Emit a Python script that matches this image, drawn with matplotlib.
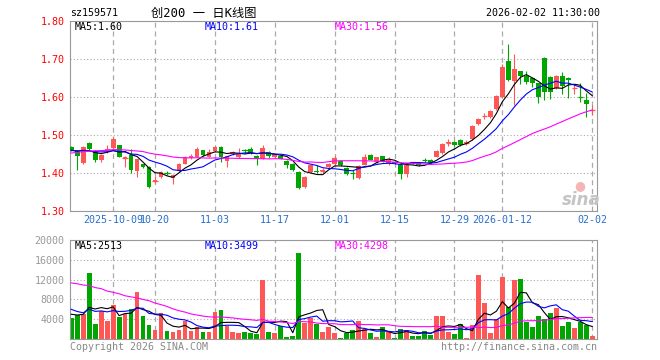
import matplotlib
matplotlib.use('Agg')
import matplotlib.pyplot as plt
import numpy as np
import pandas as pd

plt.rcParams['font.family'] = ['DejaVu Sans Mono', 'Noto Sans CJK SC']

# sessions before the window, only used to warm up the moving averages
pre_closes = [1.395, 1.41, 1.42, 1.405, 1.43, 1.44, 1.435, 1.45, 1.46, 1.455,
              1.47, 1.465, 1.48, 1.47, 1.46, 1.475, 1.485, 1.47, 1.46, 1.45,
              1.45, 1.465, 1.47, 1.455, 1.45, 1.46, 1.455, 1.465, 1.46]
pre_volumes = [9800, 12500, 16800, 15200, 11900, 18600, 14300, 13100, 17500, 12600,
               15800, 13900, 10400, 16200, 14700, 12900, 15600, 13400, 11800, 12800,
               9200, 7600, 6100, 7400, 4700, 5600, 4300, 6200, 4700]

opens = [1.468, 1.458, 1.426, 1.479, 1.459, 1.433, 1.461, 1.465, 1.474, 1.440,
         1.447, 1.404, 1.423, 1.417, 1.380, 1.389, 1.401, 1.388, 1.405, 1.424,
         1.440, 1.443, 1.460, 1.443, 1.457, 1.469, 1.431, 1.449, 1.442, 1.460,
         1.464, 1.446, 1.438, 1.456, 1.442, 1.446, 1.431, 1.424, 1.403, 1.363,
         1.403, 1.406, 1.406, 1.415, 1.424, 1.431, 1.413, 1.401, 1.387, 1.422,
         1.447, 1.429, 1.444, 1.425, 1.429, 1.421, 1.398, 1.428, 1.425, 1.435,
         1.435, 1.443, 1.453, 1.480, 1.482, 1.487, 1.480, 1.489, 1.529, 1.550,
         1.548, 1.568, 1.601, 1.695, 1.643, 1.668, 1.656, 1.651, 1.636, 1.703,
         1.652, 1.623, 1.655, 1.650, 1.623, 1.601, 1.592, 1.566]
highs = [1.470, 1.460, 1.470, 1.481, 1.461, 1.450, 1.475, 1.494, 1.475, 1.444,
         1.462, 1.438, 1.425, 1.418, 1.392, 1.404, 1.405, 1.398, 1.426, 1.444,
         1.450, 1.468, 1.461, 1.462, 1.471, 1.470, 1.446, 1.458, 1.466, 1.462,
         1.468, 1.448, 1.474, 1.458, 1.451, 1.448, 1.433, 1.426, 1.404, 1.391,
         1.423, 1.420, 1.414, 1.426, 1.444, 1.433, 1.415, 1.409, 1.420, 1.450,
         1.449, 1.443, 1.446, 1.441, 1.431, 1.423, 1.422, 1.430, 1.426, 1.440,
         1.437, 1.460, 1.479, 1.489, 1.484, 1.489, 1.487, 1.526, 1.544, 1.558,
         1.565, 1.605, 1.686, 1.739, 1.713, 1.669, 1.668, 1.653, 1.638, 1.705,
         1.654, 1.657, 1.667, 1.652, 1.633, 1.636, 1.610, 1.580]
lows = [1.458, 1.408, 1.424, 1.460, 1.429, 1.428, 1.453, 1.463, 1.441, 1.417,
        1.401, 1.389, 1.413, 1.361, 1.373, 1.387, 1.395, 1.371, 1.403, 1.423,
        1.438, 1.441, 1.445, 1.441, 1.455, 1.428, 1.415, 1.447, 1.440, 1.452,
        1.451, 1.420, 1.436, 1.440, 1.440, 1.436, 1.413, 1.405, 1.357, 1.361,
        1.401, 1.400, 1.401, 1.413, 1.422, 1.418, 1.395, 1.385, 1.385, 1.420,
        1.433, 1.427, 1.429, 1.421, 1.425, 1.384, 1.389, 1.423, 1.419, 1.430,
        1.425, 1.441, 1.451, 1.470, 1.471, 1.472, 1.474, 1.487, 1.526, 1.541,
        1.546, 1.566, 1.598, 1.642, 1.579, 1.633, 1.633, 1.627, 1.583, 1.592,
        1.596, 1.620, 1.607, 1.597, 1.607, 1.588, 1.548, 1.552]
closes = [1.461, 1.444, 1.468, 1.462, 1.433, 1.448, 1.462, 1.489, 1.443, 1.441,
          1.408, 1.436, 1.415, 1.364, 1.381, 1.402, 1.400, 1.396, 1.424, 1.442,
          1.445, 1.462, 1.447, 1.455, 1.469, 1.441, 1.444, 1.456, 1.450, 1.459,
          1.453, 1.437, 1.465, 1.444, 1.449, 1.438, 1.422, 1.409, 1.360, 1.389,
          1.420, 1.402, 1.407, 1.424, 1.440, 1.420, 1.397, 1.400, 1.418, 1.442,
          1.435, 1.441, 1.431, 1.434, 1.427, 1.398, 1.420, 1.427, 1.421, 1.434,
          1.427, 1.458, 1.477, 1.481, 1.473, 1.475, 1.481, 1.524, 1.542, 1.551,
          1.563, 1.603, 1.680, 1.645, 1.674, 1.656, 1.640, 1.636, 1.601, 1.614,
          1.614, 1.655, 1.630, 1.645, 1.624, 1.600, 1.582, 1.567]
volumes = [4200, 4800, 5000, 13270, 3000, 5670, 3670, 6800, 4470, 5130,
           6000, 9470, 4600, 2800, 1870, 5200, 1600, 1470, 1870, 3670,
           1670, 2330, 1470, 1470, 5470, 5870, 2530, 1470, 1200, 1470,
           1200, 1000, 11870, 1470, 1200, 2530, 470, 670, 17470, 3330,
           4330, 3000, 1470, 2470, 1200, 200, 1130, 1870, 3670, 2000,
           1200, 470, 2330, 1330, 200, 2000, 1800, 670, 670, 1600,
           800, 4670, 4670, 1470, 1000, 3000, 200, 2800, 12870, 7200,
           1200, 4000, 12470, 6470, 12000, 12200, 3470, 2470, 4600, 4000,
           5200, 6200, 2670, 3400, 2150, 3450, 2870, 700]

date_pos = [7, 14, 24, 34, 44, 54, 64, 72, 87]
date_labels = ['2025-10-09', '10-20', '11-03', '11-17', '12-01', '12-15',
               '12-29', '2026-01-12', '02-02']
price_ticks = [1.30, 1.40, 1.50, 1.60, 1.70, 1.80]
vol_ticks = [4000, 8000, 12000, 16000, 20000]

UP = '#ff5656'
DOWN = '#00a600'
MA_COLORS = {5: 'black', 10: '#0000ff', 30: '#ff00ff'}

n = len(closes)
x = np.arange(n)
o = np.array(opens)
c = np.array(closes)
colors = np.where(c >= o, UP, DOWN)

k = len(pre_closes)
all_close = pd.Series(pre_closes + closes)
all_vol = pd.Series(pre_volumes + volumes)

W, H = 660, 360
fig = plt.figure(figsize=(6.6, 3.6), dpi=100)
ax = fig.add_axes([70 / W, 1 - 211 / H, 527 / W, 190 / H])
axv = fig.add_axes([70 / W, 1 - 339 / H, 527 / W, 99 / H])

for a in (ax, axv):
    a.set_xlim(-0.2, 87.8)
    for s in a.spines.values():
        s.set_color('#999999')
    a.tick_params(length=0, pad=4, labelsize=7.2)
    for p in date_pos:
        a.axvline(p, color='#aaaaaa', linewidth=0.9, linestyle=(0, (4, 3)), zorder=0)

# candles
ax.vlines(x, lows, highs, colors=colors, linewidth=0.8, zorder=2)
body_lo = np.minimum(o, c)
body_h = np.abs(c - o)
ax.bar(x, body_h, 0.8, bottom=body_lo, color=colors, linewidth=0, zorder=3)
flat = body_h < 0.002
ax.hlines(o[flat], x[flat] - 0.45, x[flat] + 0.45, colors=colors[flat], linewidth=0.9, zorder=3)

for w, col in MA_COLORS.items():
    ma = all_close.rolling(w, min_periods=1).mean().values[k:]
    ax.plot(x, ma, color=col, linewidth=0.8, zorder=4)

ax.set_ylim(1.30, 1.80)
ax.set_yticks(price_ticks, ['%.2f' % t for t in price_ticks], color='red')
ax.grid(axis='y', color='#aaaaaa', linestyle=(0, (1, 2)), linewidth=0.8)
ax.set_xticks(date_pos, date_labels, color='#2a6fcb')
ax.tick_params(axis='x', pad=3)

# volume
axv.bar(x, volumes, 0.8, color=colors, linewidth=0, zorder=2)
for w, col in MA_COLORS.items():
    vma = all_vol.rolling(w, min_periods=1).mean().values[k:]
    axv.plot(x, vma, color=col, linewidth=0.8, zorder=3)
axv.set_ylim(0, 20000)
axv.set_yticks(vol_ticks, [str(t) for t in vol_ticks], color='#999999')
axv.grid(axis='y', color='#aaaaaa', linestyle=(0, (1, 2)), linewidth=0.8)
axv.set_xticks([])


def txt(px, py, s, **kw):
    kw.setdefault('fontsize', 7.2)
    kw.setdefault('va', 'center')
    fig.text(px / W, 1 - py / H, s, **kw)


txt(70, 13, 'sz159571')
txt(151, 13, '创200 一 日K线图', fontsize=8.8)
txt(600, 13, '2026-02-02 11:30:00', ha='right')
txt(75, 27, 'MA5:1.60')
txt(205, 27, 'MA10:1.61', color='#0000ff')
txt(335, 27, 'MA30:1.56', color='#ff00ff')
txt(75, 246, 'MA5:2513')
txt(205, 246, 'MA10:3499', color='#0000ff')
txt(335, 246, 'MA30:4298', color='#ff00ff')
txt(70, 347, 'Copyright 2026 SINA.COM', color='#888888')
txt(597, 347, 'http://finance.sina.com.cn', color='#888888', ha='right')

# sina watermark
txt(580, 186, '●', fontsize=9, color='#f5b5b5', ha='center', family='DejaVu Sans')
txt(581, 200, 'sina', fontsize=12, color='#c4c4c4', ha='center',
    family='DejaVu Sans', style='italic', weight='bold')

fig.savefig('out.png', dpi=100)
